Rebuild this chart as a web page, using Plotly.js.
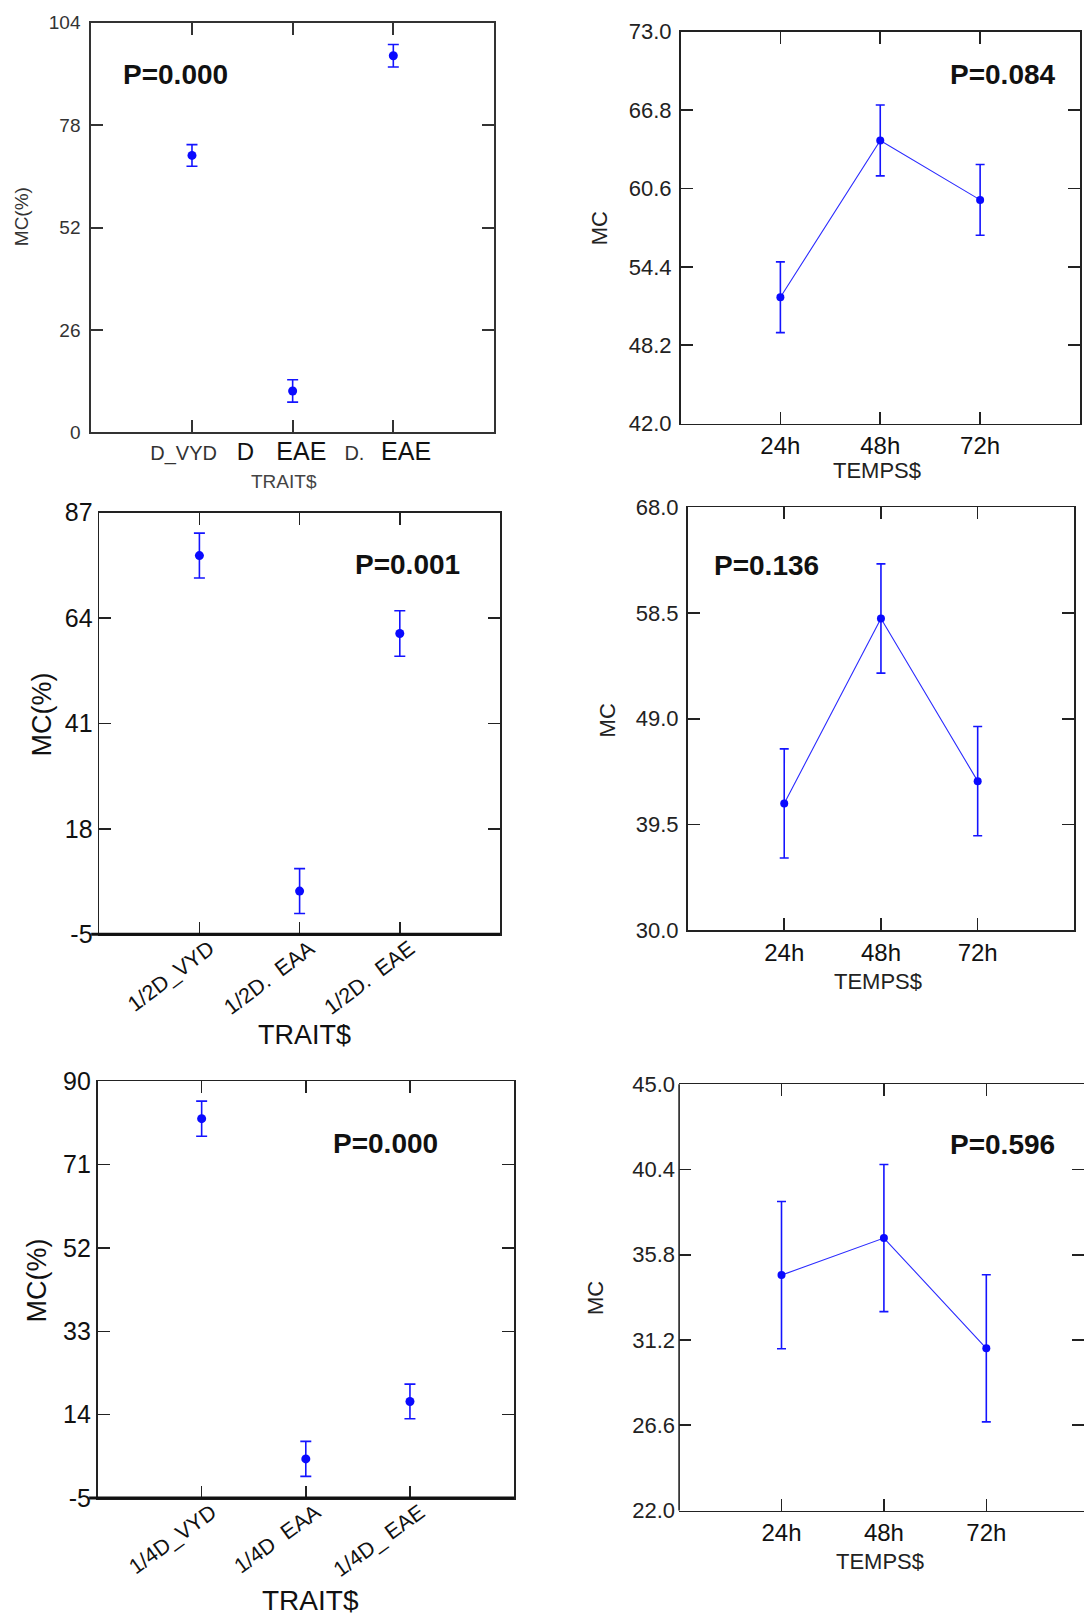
<!DOCTYPE html>
<html>
<head>
<meta charset="utf-8">
<script src="https://cdn.plot.ly/plotly-3.0.1.min.js"></script>
<style>
html,body{margin:0;padding:0;background:#fff;}
#chart{width:1084px;height:1615px;}
</style>
</head>
<body>
<div id="chart"></div>
<script>
// ---------- DATA ----------
const traitD = ['D_VYD', 'D\u00a0\u00a0\u00a0EAE', 'D.\u00a0EAE'];
const traitDText = [
  'D_VYD\u00a0\u00a0\u00a0',
  '<span style="font-size:24px;fill:#111">D</span>\u00a0\u00a0\u00a0\u00a0<span style="font-size:25px;fill:#111">EAE</span>\u00a0\u00a0\u00a0\u00a0',
  'D.\u00a0\u00a0\u00a0<span style="font-size:25px;fill:#111">EAE</span>\u00a0\u00a0'
];
const mcD = [70.3, 10.5, 95.6];
const errD = [2.75, 2.85, 2.85];

const traitHalf = ['1/2D_VYD', '1/2D.\u00a0\u00a0EAA', '1/2D.\u00a0\u00a0EAE'];
const mcHalf = [77.6, 4.4, 60.6];
const errHalf = [4.9, 4.9, 4.95];

const traitQuarter = ['1/4D_VYD', '1/4D\u00a0\u00a0EAA', '1/4D_\u00a0EAE'];
const mcQuarter = [81.5, 3.9, 17.0];
const errQuarter = [4.0, 4.0, 3.95];

const temps = ['24h', '48h', '72h'];
const mcTempsD = [52.0, 64.4, 59.7];
const errTempsD = [2.8, 2.8, 2.8];
const mcTempsHalf = [41.4, 58.0, 43.4];
const errTempsHalf = [4.9, 4.9, 4.9];
const mcTempsQuarter = [34.7, 36.7, 30.75];
const errTempsQuarter = [3.97, 3.97, 3.97];

const ticksD = [0, 26, 52, 78, 104];
const ticksHalf = [-5, 18, 41, 64, 87];
const ticksQuarter = [-5, 14, 33, 52, 71, 90];
const ticksTempsD = [42.0, 48.2, 54.4, 60.6, 66.8, 73.0];
const ticksTempsHalf = [30.0, 39.5, 49.0, 58.5, 68.0];
const ticksTempsQuarter = [22.0, 26.6, 31.2, 35.8, 40.4, 45.0];

const pValues = ['P=0.000', 'P=0.084', 'P=0.001', 'P=0.136', 'P=0.000', 'P=0.596'];

// ---------- LAYOUT HELPERS ----------
const W = 1084, H = 1615;
const FONT = 'Liberation Sans, Arial, Helvetica, sans-serif';
const px = v => v / W;
const py = v => 1 - v / H;
const dX = (a, b) => [a / W, b / W];
const dY = (top, bottom) => [1 - bottom / H, 1 - top / H];

const BLUE = '#0a0aff';

function xAxis(domain, anchor, cats, opts) {
  return Object.assign({
    domain: domain, anchor: anchor, type: 'category',
    categoryorder: 'array', categoryarray: cats,
    range: [-1, 3], showgrid: false, zeroline: false,
    showline: true, linecolor: '#222', linewidth: 1.6, mirror: 'ticks',
    ticks: 'inside', ticklen: 12, tickwidth: 1.6, tickcolor: '#222',
    tickfont: {family: FONT, size: 24, color: '#111'},
    tickangle: 0,
    ticklabelstandoff: 0, fixedrange: true
  }, opts || {});
}
function yAxis(domain, anchor, range, tickvals, opts) {
  return Object.assign({
    domain: domain, anchor: anchor, range: range,
    tickmode: 'array', tickvals: tickvals,
    showgrid: false, zeroline: false,
    showline: true, linecolor: '#222', linewidth: 1.6, mirror: 'ticks',
    ticks: 'inside', ticklen: 12, tickwidth: 1.6, tickcolor: '#222',
    tickfont: {family: FONT, size: 22, color: '#222'},
    ticklabelstandoff: 3, fixedrange: true
  }, opts || {});
}
function trace(xa, ya, cats, vals, errs, withLine, msize, capw) {
  return {
    type: 'scatter', xaxis: xa, yaxis: ya, x: cats, y: vals,
    mode: withLine ? 'lines+markers' : 'markers',
    line: {color: '#2b2bff', width: 1.1},
    marker: {color: BLUE, size: msize, symbol: 'circle'},
    error_y: {type: 'data', array: errs, visible: true, color: '#1414ff', thickness: 1.6, width: capw},
    showlegend: false, hoverinfo: 'skip'
  };
}

const data = [
  trace('x', 'y', traitD, mcD, errD, false, 9, 5.5),
  trace('x2', 'y2', temps, mcTempsD, errTempsD, true, 8, 4.5),
  trace('x3', 'y3', traitHalf, mcHalf, errHalf, false, 9, 5.5),
  trace('x4', 'y4', temps, mcTempsHalf, errTempsHalf, true, 8, 4.5),
  trace('x5', 'y5', traitQuarter, mcQuarter, errQuarter, false, 9, 5.5),
  trace('x6', 'y6', temps, mcTempsQuarter, errTempsQuarter, true, 8, 4.5)
];

function ann(text, x, y, size, opts) {
  return Object.assign({
    text: text, xref: 'paper', yref: 'paper', x: px(x), y: py(y),
    xanchor: 'center', yanchor: 'middle', showarrow: false,
    font: {family: FONT, size: size, color: '#111'}
  }, opts || {});
}
function pAnn(i, x, y) {
  return ann('<b>' + pValues[i] + '</b>', x, y, 28);
}
function grey(size) { return {family: FONT, size: size, color: '#222'}; }

const layout = {
  width: W, height: H,
  margin: {l: 0, r: 0, t: 0, b: 0},
  paper_bgcolor: '#fff', plot_bgcolor: '#fff',
  showlegend: false,
  font: {family: FONT},

  // Panel 1
  xaxis: xAxis(dX(91.3, 494), 'y', traitD, {
    tickvals: traitD, ticktext: traitDText, tickangle: 0,
    tickfont: {family: FONT, size: 20, color: '#333'}, ticklabelstandoff: 2,
    linecolor: '#333', linewidth: 2, tickcolor: '#333', tickwidth: 2
  }),
  yaxis: yAxis(dY(22.7, 432.3), 'x', [0, 104], ticksD, {
    tickfont: {family: FONT, size: 19, color: '#333'}, ticklabelstandoff: 5,
    linecolor: '#333', linewidth: 2, tickcolor: '#333', tickwidth: 2
  }),

  // Panel 2
  xaxis2: xAxis(dX(680.5, 1080), 'y2', temps, {}),
  yaxis2: yAxis(dY(31.7, 423.7), 'x2', [42, 73], ticksTempsD, {tickformat: '.1f'}),

  // Panel 3
  xaxis3: xAxis(dX(99.2, 500), 'y3', traitHalf, {
    tickangle: -37, tickfont: {family: FONT, size: 21.5, color: '#111'},
    ticklabelstandoff: -8, ticklabelshift: 10
  }),
  yaxis3: yAxis(dY(512.5, 934.2), 'x3', [-5, 87], ticksHalf, {
    ticktext: ticksHalf.map(String),
    tickfont: {family: FONT, size: 25, color: '#111'}, ticklabelstandoff: 0
  }),

  // Panel 4
  xaxis4: xAxis(dX(687.5, 1074.4), 'y4', temps, {}),
  yaxis4: yAxis(dY(507.1, 930.4), 'x4', [30, 68], ticksTempsHalf, {tickformat: '.1f'}),

  // Panel 5
  xaxis5: xAxis(dX(97.5, 514.1), 'y5', traitQuarter, {
    tickangle: -36, tickfont: {family: FONT, size: 21.5, color: '#111'},
    ticklabelstandoff: -8, ticklabelshift: 10
  }),
  yaxis5: yAxis(dY(1081.4, 1497.9), 'x5', [-5, 90], ticksQuarter, {
    ticktext: ticksQuarter.map(String),
    tickfont: {family: FONT, size: 25, color: '#111'}, ticklabelstandoff: 0
  }),

  // Panel 6 (right border cut off by the picture edge)
  xaxis6: xAxis(dX(679.1, 1084), 'y6', temps, {range: [-1, 2.954]}),
  yaxis6: yAxis(dY(1084.2, 1510.5), 'x6', [22, 45], ticksTempsQuarter, {tickformat: '.1f', showline: false}),

  shapes: [
    {type: 'line', xref: 'x3 domain', yref: 'y3 domain', x0: -0.02, x1: 1, y0: 0, y1: 0,
     line: {color: '#111', width: 3}},
    {type: 'line', xref: 'x5 domain', yref: 'y5 domain', x0: -0.02, x1: 1, y0: 0, y1: 0,
     line: {color: '#111', width: 3}},
    {type: 'line', xref: 'x6 domain', yref: 'y6 domain', x0: 0, x1: 0, y0: 0, y1: 1,
     line: {color: '#222', width: 1.6}}
  ],

  annotations: [
    pAnn(0, 175, 74.7),
    pAnn(1, 1002.7, 74),
    pAnn(2, 407.2, 564.5),
    pAnn(3, 766.6, 565),
    pAnn(4, 385.3, 1143),
    pAnn(5, 1002.7, 1144.4),
    // y titles
    ann('MC(%)', 21.7, 216.5, 19, {textangle: -90, font: {family: FONT, size: 19, color: '#333'}}),
    ann('MC', 599, 228.3, 22, {textangle: -90, font: grey(22)}),
    ann('MC(%)', 41, 714.5, 27, {textangle: -90}),
    ann('MC', 607, 720.4, 22, {textangle: -90, font: grey(22)}),
    ann('MC(%)', 37, 1280.6, 27, {textangle: -90}),
    ann('MC', 595.5, 1298.6, 22, {textangle: -90, font: grey(22)}),
    // x titles
    ann('TRAIT$', 284, 481, 19, {font: {family: FONT, size: 19, color: '#444'}}),
    ann('TEMPS$', 877, 470, 22, {font: grey(22)}),
    ann('TRAIT$', 304, 1035.3, 27),
    ann('TEMPS$', 877.5, 981, 22, {font: grey(22)}),
    ann('TRAIT$', 310.7, 1600, 28),
    ann('TEMPS$', 880, 1561.7, 22, {font: grey(22)})
  ]
};

Plotly.newPlot('chart', data, layout, {staticPlot: true, displayModeBar: false});
</script>
</body>
</html>
